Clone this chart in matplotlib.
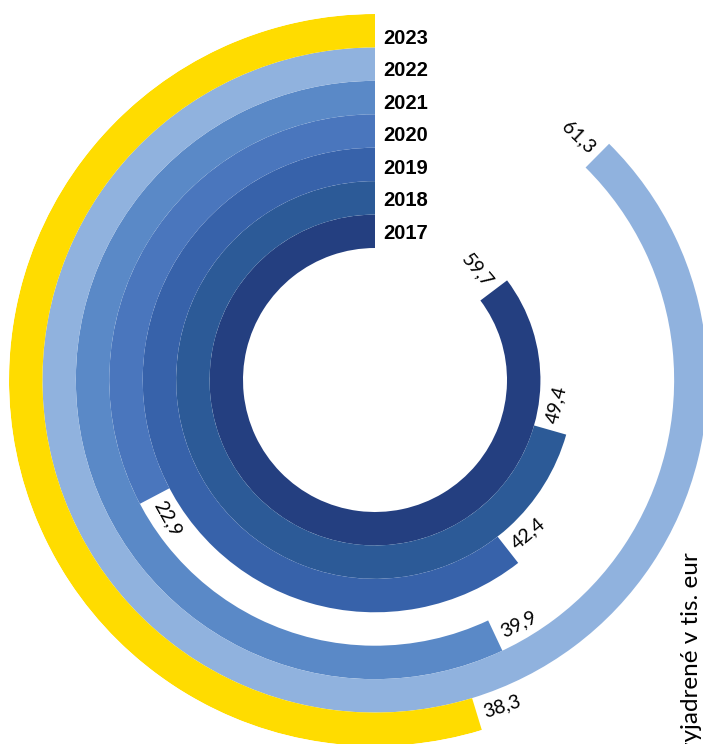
import numpy as np
import matplotlib.pyplot as plt

# data
roky = ['2017', '2018', '2019', '2020', '2021', '2022', '2023']
hodnoty = [59.7, 49.4, 42.4, 22.9, 39.9, 61.3, 38.3]
farby = ['#243F80', '#2C5A97', '#3762AA', '#4A76BD', '#5A89C7', '#90B2DE', '#FFDC00']
popisky = ['59,7', '49,4', '42,4', '22,9', '39,9', '61,3', '38,3']
plny_kruh = 70.0

W, H = 703, 744
cx, cy = 375, 380          # stred v pixeloch (od vrchu)
r_out = 366
r_in = 132
sirka = (r_out - r_in) / len(roky)

fig = plt.figure(figsize=(W / 100, H / 100), dpi=100)
ax = fig.add_axes([(cx - r_out) / W, (H - cy - r_out) / H, 2 * r_out / W, 2 * r_out / H],
                  projection='polar')
ax.set_theta_zero_location('N')
ax.set_theta_direction(1)
ax.set_ylim(0, r_out)
ax.axis('off')

for i, (rok, v) in enumerate(zip(roky, hodnoty)):
    theta = v / plny_kruh * 2 * np.pi
    bottom = r_in + i * sirka
    ax.bar(0, sirka, width=theta, bottom=bottom, align='edge',
           color=farby[i], edgecolor='none', linewidth=0)
    r_mid = bottom + sirka / 2

    # popis hodnoty na konci
    gap = 7 / r_mid
    t = theta + gap
    phi = np.degrees(t) + 90
    rot = (phi + 90) % 360
    if 90 < rot < 270:
        rot -= 180
        ha = 'right'
    else:
        ha = 'left'
    ax.text(t, r_mid, popisky[i], rotation=rot, rotation_mode='anchor',
            ha=ha, va='center', fontsize=14, family='Lato', color='black')

    # rok
    posun = -2 - (i - 0) * 0.9
    ax.annotate(rok, xy=(0, r_mid), xytext=(8, posun), textcoords='offset pixels',
                ha='left', va='center', fontsize=14.5, fontweight='bold',
                family='Liberation Sans', color='black')

fig.text(692 / W, (H - 552) / H, 'vyjadrené v tis. eur', rotation=90,
         rotation_mode='anchor', ha='right', va='center', fontsize=17.5,
         family='Lato', color='black')

plt.savefig('out.png', dpi=100)
